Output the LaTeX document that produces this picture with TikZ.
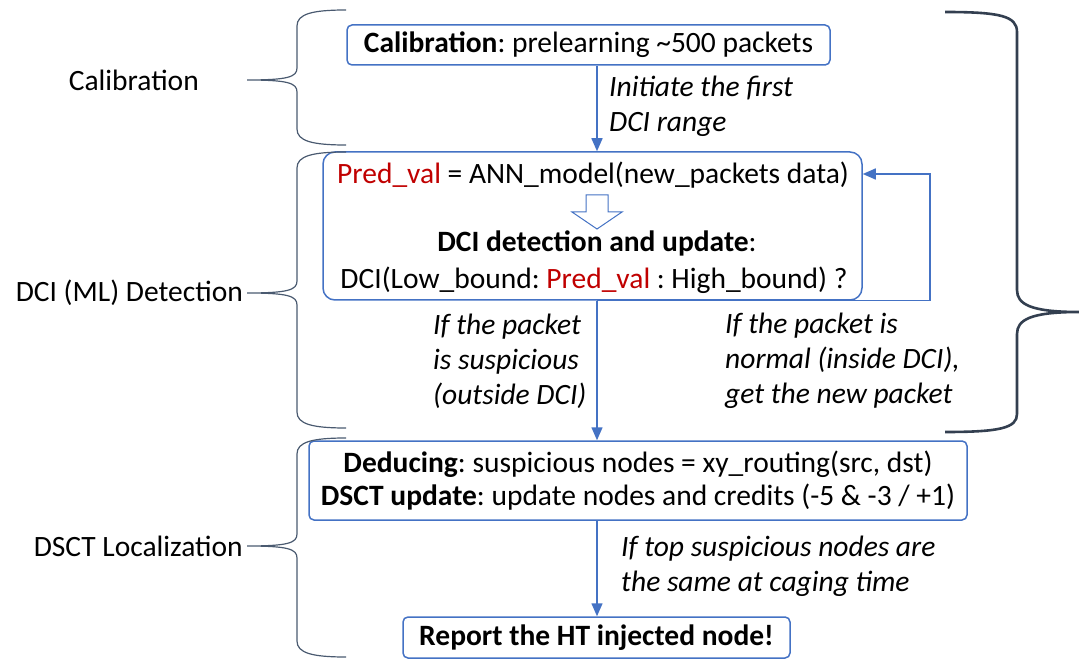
\documentclass[tikz,border=0pt]{standalone}
\usepackage{fontspec}
\setmainfont{Carlito}
\usetikzlibrary{arrows.meta}
\definecolor{obl}{HTML}{4472C4}
\definecolor{brc}{HTML}{4A5A70}
\definecolor{rbrc}{HTML}{333F50}
\definecolor{pred}{HTML}{C00000}
\frenchspacing
\newcommand\mybrace[3]{\draw[lbr] (346,#1) .. controls (312,#1) and (297,#1+4) .. (297,#1+16) -- (297,#2-12) .. controls (297,#2-3) and (288,#2) .. (247,#2) .. controls (288,#2) and (297,#2+3) .. (297,#2+12) -- (297,#3-16) .. controls (297,#3-4) and (312,#3) .. (346,#3);}
\begin{document}
\begin{tikzpicture}[x=1pt,y=-1pt,
  txt/.style={font=\fontsize{29.5}{36}\selectfont, inner sep=0pt},
  itl/.style={font=\fontsize{29.5}{35}\selectfont\itshape, inner sep=0pt, align=left},
  boxs/.style={draw=obl, line width=1.5pt, rounded corners=5pt, inner sep=0pt},
  arr/.style={draw=obl, line width=1.5pt, -{Triangle[length=13pt,width=11pt]}},
  lbr/.style={draw=brc, line width=1.2pt},
  rbr/.style={draw=rbrc, line width=2.6pt}]
\useasboundingbox (0,0) rectangle (1079,660);
\coordinate (ax) at (597,0);
% boxes
\node[boxs, minimum width=483pt, minimum height=40pt, txt] (cal) at (588.5,45) {\textbf{Calibration}: prelearning \char`\~500 packets};
\node[boxs, rounded corners=12pt, minimum width=539pt, minimum height=148pt] (dci) at (592.5,226) {};
\node[boxs, minimum width=658pt, minimum height=79pt, txt, font=\fontsize{29.5}{33}\selectfont, align=center] (dsct) at (638,480.5) {\textbf{Deducing}: suspicious nodes = xy\_routing(src, dst)\\\textbf{DSCT update}: update nodes and credits (-5 \& -3 / +1)};
\node[boxs, minimum width=387pt, minimum height=41pt, txt] (rep) at (596.5,637.5) {\textbf{Report the HT injected node!}};
% inside dci
\node[txt] (l1) at (593,175) {\textcolor{pred}{Pred\_val} = ANN\_model(new\_packets data)};
\node[txt] (l2) at (597,243) {\textbf{DCI detection and update}:};
\node[txt] (l3) at (594,280) {DCI(Low\_bound: \textcolor{pred}{Pred\_val} : High\_bound) ?};
\draw[draw=obl, fill=white, line width=1pt] (586,195) -- (608,195) -- (608,212) -- (622,212) -- (597,229) -- (572,212) -- (586,212) -- cycle;
% arrows
\draw[arr] (cal.south -| ax) -- (dci.north -| ax);
\draw[arr] (dci.south -| ax) -- (dsct.north -| ax);
\draw[arr] (dsct.south -| ax) -- (rep.north -| ax);
\coordinate (lp) at (930,174);
\draw[arr] (dci.south -| ax) -| (lp) -- (dci.east |- lp);
% labels
\node[itl, anchor=west] (t1) at (609,106) {Initiate the first\\DCI range};
\node[itl, anchor=west] (t2) at (433,361) {If the packet\\is suspicious\\(outside DCI)};
\node[itl, anchor=west] (t3) at (725,361) {If the packet is\\normal (inside DCI),\\get the new packet};
\node[itl, anchor=west] (t4) at (621,566) {If top suspicious nodes are\\the same at caging time};
% left braces and labels
\mybrace{10}{80}{145}
\mybrace{152}{293}{428}
\mybrace{438}{546}{657}
\node[txt, anchor=east] (c1) at (199,80) {Calibration};
\node[txt, anchor=east] (c2) at (243,293) {DCI (ML) Detection};
\node[txt, anchor=east] (c3) at (243,546) {DSCT Localization};
% right brace
\draw[rbr] (945,12) .. controls (1000,12) and (1017,16) .. (1017,32) -- (1017,290) .. controls (1017,304) and (1030,312) .. (1079,312) .. controls (1030,312) and (1017,320) .. (1017,334) -- (1017,414) .. controls (1017,428) and (1000,432) .. (945,432);
\end{tikzpicture}
\end{document}
